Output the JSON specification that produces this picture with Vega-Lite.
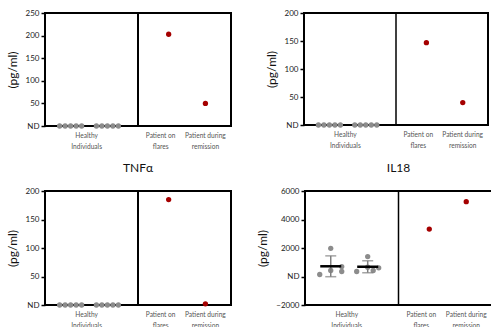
{
  "$schema": "https://vega.github.io/schema/vega-lite/v6.json",
  "padding": {"left": 5, "top": 8, "right": 2, "bottom": 0},
  "background": "white",
  "data": {"values": [
    {"chart": "A", "group": "H1", "col": 1, "value": 0},
    {"chart": "A", "group": "H1", "col": 2, "value": 0},
    {"chart": "A", "group": "H1", "col": 3, "value": 0},
    {"chart": "A", "group": "H1", "col": 4, "value": 0},
    {"chart": "A", "group": "H1", "col": 5, "value": 0},
    {"chart": "A", "group": "H2", "col": 1, "value": 0},
    {"chart": "A", "group": "H2", "col": 2, "value": 0},
    {"chart": "A", "group": "H2", "col": 3, "value": 0},
    {"chart": "A", "group": "H2", "col": 4, "value": 0},
    {"chart": "A", "group": "H2", "col": 5, "value": 0},
    {"chart": "A", "group": "F", "col": 3, "value": 203},
    {"chart": "A", "group": "R", "col": 3, "value": 50},
    {"chart": "B", "group": "H1", "col": 1, "value": 0},
    {"chart": "B", "group": "H1", "col": 2, "value": 0},
    {"chart": "B", "group": "H1", "col": 3, "value": 0},
    {"chart": "B", "group": "H1", "col": 4, "value": 0},
    {"chart": "B", "group": "H1", "col": 5, "value": 0},
    {"chart": "B", "group": "H2", "col": 1, "value": 0},
    {"chart": "B", "group": "H2", "col": 2, "value": 0},
    {"chart": "B", "group": "H2", "col": 3, "value": 0},
    {"chart": "B", "group": "H2", "col": 4, "value": 0},
    {"chart": "B", "group": "H2", "col": 5, "value": 0},
    {"chart": "B", "group": "F", "col": 3, "value": 147},
    {"chart": "B", "group": "R", "col": 3, "value": 40},
    {"chart": "TNFα", "group": "H1", "col": 1, "value": 0},
    {"chart": "TNFα", "group": "H1", "col": 2, "value": 0},
    {"chart": "TNFα", "group": "H1", "col": 3, "value": 0},
    {"chart": "TNFα", "group": "H1", "col": 4, "value": 0},
    {"chart": "TNFα", "group": "H1", "col": 5, "value": 0},
    {"chart": "TNFα", "group": "H2", "col": 1, "value": 0},
    {"chart": "TNFα", "group": "H2", "col": 2, "value": 0},
    {"chart": "TNFα", "group": "H2", "col": 3, "value": 0},
    {"chart": "TNFα", "group": "H2", "col": 4, "value": 0},
    {"chart": "TNFα", "group": "H2", "col": 5, "value": 0},
    {"chart": "TNFα", "group": "F", "col": 3, "value": 185},
    {"chart": "TNFα", "group": "R", "col": 3, "value": 2},
    {"chart": "IL18", "group": "H1", "col": 1, "value": 140},
    {"chart": "IL18", "group": "H1", "col": 3, "value": 1975},
    {"chart": "IL18", "group": "H1", "col": 3, "value": 420},
    {"chart": "IL18", "group": "H1", "col": 5, "value": 700},
    {"chart": "IL18", "group": "H1", "col": 5, "value": 350},
    {"chart": "IL18", "group": "H2", "col": 1, "value": 350},
    {"chart": "IL18", "group": "H2", "col": 3, "value": 1400},
    {"chart": "IL18", "group": "H2", "col": 3, "value": 650},
    {"chart": "IL18", "group": "H2", "col": 4, "value": 420},
    {"chart": "IL18", "group": "H2", "col": 5, "value": 610},
    {"chart": "IL18", "group": "F", "col": 3, "value": 3330},
    {"chart": "IL18", "group": "R", "col": 3, "value": 5250}
  ]},
  "config": {
    "font": "Lato",
    "view": {"stroke": "black", "strokeWidth": 2},
    "axis": {"labelFont": "Lato", "titleFont": "Lato", "grid": false},
    "axisX": {"title": null, "ticks": false, "domain": false, "labelAngle": 0, "labelFontSize": 6.6, "labelColor": "#555555", "labelPadding": 6, "labelLineHeight": 11, "labelOverlap": false, "labelBound": false},
    "axisY": {"domain": false, "tickColor": "black", "tickWidth": 1.5, "tickSize": 4, "labelFontSize": 8, "labelColor": "#222222", "labelPadding": 2, "titleFontSize": 12, "titleFontWeight": 400, "titleColor": "#111111", "titlePadding": 6},
    "title": {"font": "Lato", "fontSize": 12, "fontWeight": 400, "color": "#111111", "offset": 12}
  },
  "spacing": 10,
  "vconcat": [
    {
      "spacing": 32,
      "hconcat": [
        {
          "width": 186, "height": 113,
          "layer": [
            {
              "data": {"values": [{}]},
              "mark": {"type": "rule", "color": "black", "strokeWidth": 2},
              "encoding": {"x": {"datum": "g6", "type": "nominal", "bandPosition": 0,
                "scale": {"type": "band", "domain": ["e0", "H1", "g1", "g2", "H2", "g4", "g5", "g6", "g7", "F", "g9", "g10", "R", "e1"], "paddingInner": 0, "paddingOuter": 0.59},
                "axis": {"labelExpr": "datum.value === 'H1' ? ['Healthy','Individuals'] : datum.value === 'F' ? ['Patient on','flares'] : datum.value === 'R' ? ['Patient during','remission'] : ''", "labelOffset": {"condition": [{"test": "datum.value === 'H1'", "value": 16}, {"test": "datum.value === 'F'", "value": -8}], "value": 0}}}}
            },
            {
              "transform": [{"filter": "datum.chart === 'A'"}],
              "mark": {"type": "circle", "size": 28, "opacity": 1},
              "encoding": {
                "x": {"field": "group", "type": "nominal",
                  "scale": {"type": "band", "domain": ["e0", "H1", "g1", "g2", "H2", "g4", "g5", "g6", "g7", "F", "g9", "g10", "R", "e1"], "paddingInner": 0, "paddingOuter": 0.59},
                  "axis": {"labelExpr": "datum.value === 'H1' ? ['Healthy','Individuals'] : datum.value === 'F' ? ['Patient on','flares'] : datum.value === 'R' ? ['Patient during','remission'] : ''", "labelOffset": {"condition": [{"test": "datum.value === 'H1'", "value": 16}, {"test": "datum.value === 'F'", "value": -8}], "value": 0}}},
                "xOffset": {"field": "col", "type": "ordinal", "scale": {"domain": [1, 2, 3, 4, 5], "range": [-7.6, 19.9]}},
                "y": {"field": "value", "type": "quantitative", "scale": {"domain": [0, 250], "nice": false},
                  "axis": {"title": "(pg/ml)", "values": [0, 50, 100, 150, 200, 250], "labelExpr": "datum.value === 0 ? 'ND' : datum.label"}},
                "color": {"field": "group", "type": "nominal", "scale": {"domain": ["H1", "H2", "F", "R"], "range": ["#8c8c8c", "#8c8c8c", "#a50000", "#a50000"]}, "legend": null}
              }
            }
          ]
        },
        {
          "width": 184, "height": 112,
          "layer": [
            {
              "data": {"values": [{}]},
              "mark": {"type": "rule", "color": "black", "strokeWidth": 1.5},
              "encoding": {"x": {"datum": "g6", "type": "nominal", "bandPosition": 0,
                "scale": {"type": "band", "domain": ["e0", "H1", "g1", "g2", "H2", "g4", "g5", "g6", "g7", "F", "g9", "g10", "R", "e1"], "paddingInner": 0, "paddingOuter": 0.59},
                "axis": {"labelExpr": "datum.value === 'H1' ? ['Healthy','Individuals'] : datum.value === 'F' ? ['Patient on','flares'] : datum.value === 'R' ? ['Patient during','remission'] : ''", "labelOffset": {"condition": [{"test": "datum.value === 'H1'", "value": 16}, {"test": "datum.value === 'F'", "value": -8}], "value": 0}}}}
            },
            {
              "transform": [{"filter": "datum.chart === 'B'"}],
              "mark": {"type": "circle", "size": 28, "opacity": 1},
              "encoding": {
                "x": {"field": "group", "type": "nominal",
                  "scale": {"type": "band", "domain": ["e0", "H1", "g1", "g2", "H2", "g4", "g5", "g6", "g7", "F", "g9", "g10", "R", "e1"], "paddingInner": 0, "paddingOuter": 0.59},
                  "axis": {"labelExpr": "datum.value === 'H1' ? ['Healthy','Individuals'] : datum.value === 'F' ? ['Patient on','flares'] : datum.value === 'R' ? ['Patient during','remission'] : ''", "labelOffset": {"condition": [{"test": "datum.value === 'H1'", "value": 16}, {"test": "datum.value === 'F'", "value": -8}], "value": 0}}},
                "xOffset": {"field": "col", "type": "ordinal", "scale": {"domain": [1, 2, 3, 4, 5], "range": [-7.6, 19.9]}},
                "y": {"field": "value", "type": "quantitative", "scale": {"domain": [0, 200], "nice": false},
                  "axis": {"title": "(pg/ml)", "values": [0, 50, 100, 150, 200], "labelExpr": "datum.value === 0 ? 'ND' : datum.label"}},
                "color": {"field": "group", "type": "nominal", "scale": {"domain": ["H1", "H2", "F", "R"], "range": ["#8c8c8c", "#8c8c8c", "#a50000", "#a50000"]}, "legend": null}
              }
            }
          ]
        }
      ]
    },
    {
      "spacing": 23,
      "hconcat": [
        {
          "width": 186, "height": 114,
          "title": "TNFα",
          "layer": [
            {
              "data": {"values": [{}]},
              "mark": {"type": "rule", "color": "black", "strokeWidth": 2},
              "encoding": {"x": {"datum": "g6", "type": "nominal", "bandPosition": 0,
                "scale": {"type": "band", "domain": ["e0", "H1", "g1", "g2", "H2", "g4", "g5", "g6", "g7", "F", "g9", "g10", "R", "e1"], "paddingInner": 0, "paddingOuter": 0.59},
                "axis": {"labelExpr": "datum.value === 'H1' ? ['Healthy','Individuals'] : datum.value === 'F' ? ['Patient on','flares'] : datum.value === 'R' ? ['Patient during','remission'] : ''", "labelOffset": {"condition": [{"test": "datum.value === 'H1'", "value": 16}, {"test": "datum.value === 'F'", "value": -8}], "value": 0}}}}
            },
            {
              "transform": [{"filter": "datum.chart === 'TNFα'"}],
              "mark": {"type": "circle", "size": 28, "opacity": 1},
              "encoding": {
                "x": {"field": "group", "type": "nominal",
                  "scale": {"type": "band", "domain": ["e0", "H1", "g1", "g2", "H2", "g4", "g5", "g6", "g7", "F", "g9", "g10", "R", "e1"], "paddingInner": 0, "paddingOuter": 0.59},
                  "axis": {"labelExpr": "datum.value === 'H1' ? ['Healthy','Individuals'] : datum.value === 'F' ? ['Patient on','flares'] : datum.value === 'R' ? ['Patient during','remission'] : ''", "labelOffset": {"condition": [{"test": "datum.value === 'H1'", "value": 16}, {"test": "datum.value === 'F'", "value": -8}], "value": 0}}},
                "xOffset": {"field": "col", "type": "ordinal", "scale": {"domain": [1, 2, 3, 4, 5], "range": [-7.6, 19.9]}},
                "y": {"field": "value", "type": "quantitative", "scale": {"domain": [0, 200], "nice": false},
                  "axis": {"title": "(pg/ml)", "values": [0, 50, 100, 150, 200], "labelExpr": "datum.value === 0 ? 'ND' : datum.label"}},
                "color": {"field": "group", "type": "nominal", "scale": {"domain": ["H1", "H2", "F", "R"], "range": ["#8c8c8c", "#8c8c8c", "#a50000", "#a50000"]}, "legend": null}
              }
            }
          ]
        },
        {
          "width": 187, "height": 114,
          "title": "IL18",
          "layer": [
            {
              "data": {"values": [{}]},
              "mark": {"type": "rule", "color": "black", "strokeWidth": 1.5},
              "encoding": {"x": {"datum": "g6", "type": "nominal", "bandPosition": 0,
                "scale": {"type": "band", "domain": ["e0", "H1", "g1", "g2", "H2", "g4", "g5", "g6", "g7", "F", "g9", "g10", "R", "e1"], "paddingInner": 0, "paddingOuter": 0.59},
                "axis": {"labelExpr": "datum.value === 'H1' ? ['Healthy','Individuals'] : datum.value === 'F' ? ['Patient on','flares'] : datum.value === 'R' ? ['Patient during','remission'] : ''", "labelOffset": {"condition": [{"test": "datum.value === 'H1'", "value": 16}, {"test": "datum.value === 'F'", "value": -8}], "value": 0}}}}
            },
            {
              "transform": [{"filter": "datum.chart === 'IL18'"}],
              "mark": {"type": "circle", "size": 28, "opacity": 1},
              "encoding": {
                "x": {"field": "group", "type": "nominal",
                  "scale": {"type": "band", "domain": ["e0", "H1", "g1", "g2", "H2", "g4", "g5", "g6", "g7", "F", "g9", "g10", "R", "e1"], "paddingInner": 0, "paddingOuter": 0.59},
                  "axis": {"labelExpr": "datum.value === 'H1' ? ['Healthy','Individuals'] : datum.value === 'F' ? ['Patient on','flares'] : datum.value === 'R' ? ['Patient during','remission'] : ''", "labelOffset": {"condition": [{"test": "datum.value === 'H1'", "value": 16}, {"test": "datum.value === 'F'", "value": -8}], "value": 0}}},
                "xOffset": {"field": "col", "type": "ordinal", "scale": {"domain": [1, 2, 3, 4, 5], "range": [-7.6, 19.9]}},
                "y": {"field": "value", "type": "quantitative", "scale": {"domain": [-2000, 6000], "nice": false},
                  "axis": {"title": "(pg/ml)", "values": [-2000, 0, 2000, 4000, 6000], "format": "d", "labelExpr": "datum.value === 0 ? 'ND' : datum.label"}},
                "color": {"field": "group", "type": "nominal", "scale": {"domain": ["H1", "H2", "F", "R"], "range": ["#8c8c8c", "#8c8c8c", "#a50000", "#a50000"]}, "legend": null}
              }
            },
            {
              "transform": [{"filter": "datum.chart === 'IL18' && (datum.group === 'H1' || datum.group === 'H2')"}],
              "mark": {"type": "errorbar", "extent": "stdev", "color": "#7f7f7f", "thickness": 1.5, "ticks": {"size": 11}},
              "encoding": {
                "x": {"field": "group", "type": "nominal",
                  "scale": {"type": "band", "domain": ["e0", "H1", "g1", "g2", "H2", "g4", "g5", "g6", "g7", "F", "g9", "g10", "R", "e1"], "paddingInner": 0, "paddingOuter": 0.59},
                  "axis": {"labelExpr": "datum.value === 'H1' ? ['Healthy','Individuals'] : datum.value === 'F' ? ['Patient on','flares'] : datum.value === 'R' ? ['Patient during','remission'] : ''", "labelOffset": {"condition": [{"test": "datum.value === 'H1'", "value": 16}, {"test": "datum.value === 'F'", "value": -8}], "value": 0}}},
                "y": {"field": "value", "type": "quantitative", "scale": {"domain": [-2000, 6000], "nice": false},
                  "axis": {"title": "(pg/ml)", "values": [-2000, 0, 2000, 4000, 6000], "format": "d", "labelExpr": "datum.value === 0 ? 'ND' : datum.label"}}
              }
            },
            {
              "transform": [{"filter": "datum.chart === 'IL18' && (datum.group === 'H1' || datum.group === 'H2')"}],
              "mark": {"type": "tick", "color": "black", "thickness": 2.5, "size": 21},
              "encoding": {
                "x": {"field": "group", "type": "nominal",
                  "scale": {"type": "band", "domain": ["e0", "H1", "g1", "g2", "H2", "g4", "g5", "g6", "g7", "F", "g9", "g10", "R", "e1"], "paddingInner": 0, "paddingOuter": 0.59},
                  "axis": {"labelExpr": "datum.value === 'H1' ? ['Healthy','Individuals'] : datum.value === 'F' ? ['Patient on','flares'] : datum.value === 'R' ? ['Patient during','remission'] : ''", "labelOffset": {"condition": [{"test": "datum.value === 'H1'", "value": 16}, {"test": "datum.value === 'F'", "value": -8}], "value": 0}}},
                "y": {"aggregate": "mean", "field": "value", "type": "quantitative", "scale": {"domain": [-2000, 6000], "nice": false},
                  "axis": {"title": "(pg/ml)", "values": [-2000, 0, 2000, 4000, 6000], "format": "d", "labelExpr": "datum.value === 0 ? 'ND' : datum.label"}}
              }
            }
          ]
        }
      ]
    }
  ]
}
